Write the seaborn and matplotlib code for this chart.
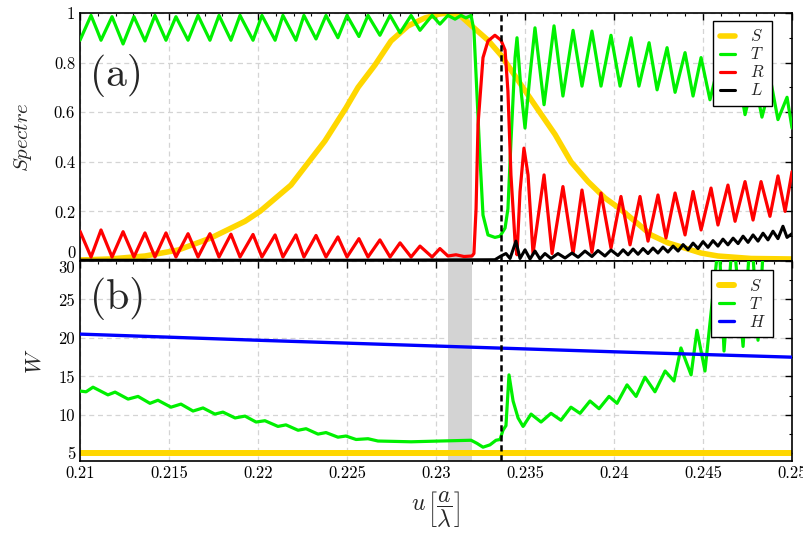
import numpy as np
import pandas as pd
import matplotlib
matplotlib.use("Agg")
import matplotlib.pyplot as plt
import seaborn as sns

# ---------------- data ----------------
x_ticks = [0.21, 0.215, 0.22, 0.225, 0.23, 0.235, 0.24, 0.245, 0.25]
x_tick_labels = ["0.21", "0.215", "0.22", "0.225", "0.23", "0.235", "0.24", "0.245", "0.25"]
top_ticks = [0, 0.2, 0.4, 0.6, 0.8, 1.0]
top_tick_labels = ["0", "0.2", "0.4", "0.6", "0.8", "1"]
bot_ticks = [5, 10, 15, 20, 25, 30]
bot_tick_labels = ["5", "10", "15", "20", "25", "30"]

span_lo, span_hi = 0.2307, 0.2320
vline_x = 0.23365

# Panel (a)
S_x = [0.21000, 0.21169, 0.21365, 0.21551, 0.21736, 0.21927, 0.22011, 0.22185, 0.22376,
       0.22494, 0.22562, 0.22657, 0.22747, 0.22843, 0.22938, 0.23022, 0.23079, 0.23135,
       0.23197, 0.23292, 0.23365, 0.23478, 0.23573, 0.23669, 0.23758, 0.23854, 0.23949,
       0.24034, 0.24118, 0.24208, 0.24303, 0.24399, 0.24489, 0.24584, 0.24770, 0.25000]
S_y = [0.004, 0.008, 0.02, 0.044, 0.093, 0.16, 0.20, 0.306, 0.484,
       0.617, 0.70, 0.79, 0.887, 0.948, 0.98, 0.996, 1.0, 0.99,
       0.95, 0.89, 0.83, 0.71, 0.61, 0.51, 0.40, 0.32, 0.254,
       0.21, 0.16, 0.105, 0.073, 0.052, 0.032, 0.02, 0.01, 0.008]

T_x = [0.21000, 0.21062, 0.21096, 0.21118, 0.21180, 0.21242, 0.21303, 0.21365, 0.21421,
       0.21483, 0.21539, 0.21607, 0.21663, 0.21730, 0.21781, 0.21848, 0.21899, 0.21972,
       0.22022, 0.22096, 0.22140, 0.22213, 0.22258, 0.22326, 0.22382, 0.22449, 0.22500,
       0.22567, 0.22618, 0.22685, 0.22742, 0.22798, 0.22860, 0.22910, 0.22978, 0.23022,
       0.23067, 0.23107, 0.23140, 0.23168, 0.23197, 0.23213, 0.23225, 0.23247, 0.23264,
       0.23292, 0.23331, 0.23360, 0.23388, 0.23404, 0.23421, 0.23444, 0.23455, 0.23478,
       0.23500, 0.23528, 0.23556, 0.23607, 0.23663, 0.23713, 0.23770, 0.23820, 0.23876,
       0.23927, 0.23983, 0.24034, 0.24096, 0.24140, 0.24197, 0.24242, 0.24298, 0.24343,
       0.24399, 0.24444, 0.24489, 0.24539, 0.24590, 0.24635, 0.24691, 0.24736, 0.24787,
       0.24831, 0.24882, 0.24921, 0.24972, 0.25000]
T_y = [0.89, 0.99, 0.93, 0.89, 0.985, 0.875, 0.985, 0.887, 0.99,
       0.89, 0.985, 0.89, 0.99, 0.89, 0.99, 0.89, 0.99, 0.89,
       0.99, 0.89, 0.99, 0.89, 0.99, 0.895, 0.99, 0.90, 0.99,
       0.905, 0.99, 0.91, 0.99, 0.92, 0.99, 0.93, 0.99, 0.955,
       0.99, 0.975, 0.99, 0.98, 0.99, 0.93, 0.75, 0.415, 0.185,
       0.105, 0.095, 0.10, 0.133, 0.21, 0.48, 0.82, 0.90, 0.685,
       0.536, 0.75, 0.94, 0.63, 0.948, 0.665, 0.93, 0.705, 0.927,
       0.705, 0.91, 0.705, 0.90, 0.705, 0.88, 0.69, 0.86, 0.68,
       0.84, 0.665, 0.82, 0.65, 0.80, 0.63, 0.78, 0.59, 0.74,
       0.58, 0.72, 0.57, 0.66, 0.536]

R_x = [0.21000, 0.21062, 0.21118, 0.21180, 0.21242, 0.21303, 0.21365, 0.21421, 0.21483,
       0.21539, 0.21607, 0.21663, 0.21730, 0.21781, 0.21848, 0.21899, 0.21972, 0.22022,
       0.22096, 0.22140, 0.22213, 0.22258, 0.22326, 0.22382, 0.22449, 0.22500, 0.22567,
       0.22618, 0.22685, 0.22742, 0.22798, 0.22860, 0.22910, 0.22978, 0.23022, 0.23067,
       0.23112, 0.23157, 0.23202, 0.23213, 0.23225, 0.23236, 0.23264, 0.23292, 0.23331,
       0.23348, 0.23365, 0.23388, 0.23404, 0.23421, 0.23444, 0.23455, 0.23472, 0.23494,
       0.23517, 0.23545, 0.23607, 0.23652, 0.23713, 0.23770, 0.23820, 0.23876, 0.23927,
       0.23983, 0.24039, 0.24090, 0.24146, 0.24191, 0.24247, 0.24292, 0.24343, 0.24399,
       0.24444, 0.24489, 0.24545, 0.24584, 0.24640, 0.24680, 0.24736, 0.24781, 0.24826,
       0.24876, 0.24921, 0.24961, 0.25000]
R_y = [0.12, 0.016, 0.125, 0.016, 0.118, 0.016, 0.113, 0.016, 0.113,
       0.016, 0.11, 0.016, 0.11, 0.016, 0.108, 0.016, 0.107, 0.016,
       0.105, 0.016, 0.105, 0.016, 0.103, 0.016, 0.097, 0.016, 0.09,
       0.016, 0.085, 0.016, 0.073, 0.016, 0.06, 0.016, 0.05, 0.02,
       0.025, 0.018, 0.02, 0.03, 0.21, 0.55, 0.82, 0.887, 0.91,
       0.90, 0.89, 0.85, 0.685, 0.347, 0.08, 0.025, 0.28, 0.455,
       0.347, 0.03, 0.347, 0.03, 0.30, 0.03, 0.286, 0.035, 0.274,
       0.052, 0.26, 0.065, 0.26, 0.08, 0.266, 0.093, 0.274, 0.105,
       0.28, 0.125, 0.294, 0.145, 0.306, 0.16, 0.32, 0.165, 0.32,
       0.18, 0.343, 0.20, 0.36]

L_x = [0.21000, 0.21500, 0.22000, 0.22500, 0.23000, 0.23331, 0.23365, 0.23393, 0.23416,
       0.23449, 0.23472, 0.23500, 0.23528, 0.23556, 0.23584, 0.23612, 0.23646, 0.23685,
       0.23725, 0.23764, 0.23798, 0.23837, 0.23876, 0.23910, 0.23949, 0.23983, 0.24022,
       0.24051, 0.24079, 0.24107, 0.24135, 0.24163, 0.24191, 0.24219, 0.24247, 0.24275,
       0.24303, 0.24332, 0.24360, 0.24388, 0.24416, 0.24444, 0.24472, 0.24500, 0.24528,
       0.24556, 0.24584, 0.24612, 0.24640, 0.24669, 0.24697, 0.24725, 0.24753, 0.24781,
       0.24809, 0.24837, 0.24865, 0.24893, 0.24921, 0.24949, 0.24972, 0.25000]
L_y = [0.003, 0.003, 0.003, 0.003, 0.004, 0.005, 0.02, 0.03, 0.01,
       0.08, 0.01, 0.045, 0.008, 0.04, 0.008, 0.03, 0.01, 0.03,
       0.012, 0.032, 0.015, 0.04, 0.018, 0.042, 0.02, 0.044, 0.022,
       0.045, 0.025, 0.048, 0.027, 0.05, 0.03, 0.052, 0.032, 0.056,
       0.036, 0.06, 0.04, 0.066, 0.045, 0.072, 0.05, 0.078, 0.055,
       0.082, 0.06, 0.088, 0.065, 0.092, 0.07, 0.10, 0.075, 0.105,
       0.08, 0.112, 0.085, 0.12, 0.09, 0.14, 0.095, 0.11]

# Panel (b)
Sb_x = [0.21, 0.25]
Sb_y = [5.0, 5.0]
H_x = [0.21, 0.22, 0.23, 0.24, 0.25]
H_y = [20.5, 19.7, 18.95, 18.2, 17.5]
Tb_x = [0.21000, 0.21034, 0.21073, 0.21157, 0.21197, 0.21270, 0.21326, 0.21393, 0.21438,
        0.21511, 0.21567, 0.21635, 0.21691, 0.21758, 0.21803, 0.21871, 0.21927, 0.21989,
        0.22039, 0.22112, 0.22157, 0.22225, 0.22270, 0.22337, 0.22382, 0.22449, 0.22494,
        0.22551, 0.22618, 0.22674, 0.22770, 0.22860, 0.23022, 0.23197, 0.23230, 0.23264,
        0.23303, 0.23337, 0.23360, 0.23376, 0.23393, 0.23410, 0.23433, 0.23461, 0.23489,
        0.23534, 0.23590, 0.23646, 0.23702, 0.23758, 0.23809, 0.23865, 0.23916, 0.23972,
        0.24017, 0.24073, 0.24124, 0.24174, 0.24230, 0.24287, 0.24337, 0.24376, 0.24433,
        0.24466, 0.24511, 0.24562, 0.24590, 0.24618, 0.24669, 0.24725, 0.24770, 0.24809,
        0.24854]
Tb_y = [13.1, 13.0, 13.6, 12.6, 12.96, 12.05, 12.4, 11.5, 11.9,
        11.0, 11.4, 10.5, 10.9, 10.1, 10.36, 9.6, 9.84, 9.07,
        9.24, 8.5, 8.7, 8.0, 8.2, 7.5, 7.7, 7.1, 7.25,
        6.8, 6.9, 6.6, 6.55, 6.5, 6.6, 6.7, 6.3, 5.8,
        6.1, 6.7, 6.8, 8.0, 8.6, 15.2, 11.8, 9.6, 8.5,
        10.1, 9.07, 10.2, 9.3, 11.0, 10.2, 11.8, 10.8, 12.4,
        11.5, 13.9, 12.4, 14.9, 13.0, 15.7, 14.4, 18.7, 15.2,
        21.0, 15.7, 27.0, 33.0, 18.3, 34.0, 18.9, 35.0, 19.7,
        38.0]

# ---------------- style ----------------
sns.set_theme(style="white")
plt.rcParams.update({
    "font.family": "cmr10",
    "mathtext.fontset": "cm",
    "axes.unicode_minus": False,
    "axes.formatter.use_mathtext": True,
    "axes.edgecolor": "black",
    "axes.linewidth": 1.2,
    "xtick.direction": "in",
    "ytick.direction": "in",
    "xtick.top": True,
    "ytick.right": True,
    "xtick.major.size": 5,
    "ytick.major.size": 5,
    "xtick.minor.size": 2.5,
    "ytick.minor.size": 2.5,
    "xtick.major.width": 1.0,
    "ytick.major.width": 1.0,
    "xtick.minor.width": 0.8,
    "ytick.minor.width": 0.8,
    "xtick.color": "black",
    "ytick.color": "black",
    "xtick.labelsize": 12,
    "ytick.labelsize": 12,
    "lines.solid_joinstyle": "round",
    "lines.solid_capstyle": "round",
})

C_S = "#FFD700"
C_T = "#00F000"
C_R = "#FF0000"
C_L = "#000000"
C_H = "#0000FF"

fig = plt.figure(figsize=(8.04, 5.42), dpi=100)
ax1 = fig.add_axes([0.0995, 0.5185, 0.8856, 0.4576])
ax2 = fig.add_axes([0.0995, 0.1494, 0.8856, 0.3690])

grid_kw = dict(color="#d4d4d4", lw=0.9, ls=(0, (4, 3)))

for ax in (ax1, ax2):
    ax.set_axisbelow(True)
    ax.grid(True, which="major", **grid_kw)
    ax.axvspan(span_lo, span_hi, color="#d3d3d3", lw=0, zorder=1)
    ax.set_xlim(0.21, 0.25)
    ax.set_xticks(x_ticks)
    ax.set_xticks(np.arange(0.21, 0.2501, 0.001), minor=True)
    for sp in ax.spines.values():
        sp.set_color("black")
        sp.set_linewidth(1.2)

# Panel (a)
sns.lineplot(x=S_x, y=S_y, ax=ax1, color=C_S, lw=4.0, label=r"$S\;\;$", estimator=None, zorder=2)
sns.lineplot(x=T_x, y=T_y, ax=ax1, color=C_T, lw=2.3, label=r"$T\;\;$", estimator=None, zorder=3)
sns.lineplot(x=R_x, y=R_y, ax=ax1, color=C_R, lw=2.3, label=r"$R\;\;$", estimator=None, zorder=4)
sns.lineplot(x=L_x, y=L_y, ax=ax1, color=C_L, lw=2.2, label=r"$L\;\;$", estimator=None, zorder=5)
ax1.axvline(vline_x, color="black", lw=1.8, ls=(0, (2.5, 1.5)), zorder=6)
ax1.set_ylim(0, 1)
ax1.set_yticks(top_ticks)
ax1.set_yticklabels(top_tick_labels)
ax1.set_yticks(np.arange(0, 1.001, 0.1), minor=True)
ax1.tick_params(axis="x", which="both", labelbottom=False)
ax1.set_xlabel("")
ax1.set_ylabel(r"$Spectre$", fontsize=15, labelpad=14)
ax1.text(0.014, 0.746, "(a)", transform=ax1.transAxes, fontsize=30, ha="left", va="center")
leg1 = ax1.legend(loc="upper right", bbox_to_anchor=(0.972, 0.968), borderaxespad=0,
                  fontsize=12, frameon=True, fancybox=False, framealpha=1, edgecolor="black",
                  handlelength=0.9, handletextpad=0.9, labelspacing=0.12, borderpad=0.45)
leg1.get_frame().set_linewidth(1.0)
leg1.set_zorder(10)

# Panel (b)
sns.lineplot(x=Sb_x, y=Sb_y, ax=ax2, color=C_S, lw=4.3, label=r"$S\;\;$", estimator=None, zorder=2)
sns.lineplot(x=Tb_x, y=Tb_y, ax=ax2, color=C_T, lw=2.3, label=r"$T\;\;$", estimator=None, zorder=3)
sns.lineplot(x=H_x, y=H_y, ax=ax2, color=C_H, lw=2.4, label=r"$H\;\;$", estimator=None, zorder=4)
ax2.axvline(vline_x, color="black", lw=1.8, ls=(0, (2.5, 1.5)), zorder=6)
ax2.set_ylim(4, 30)
ax2.set_yticks(bot_ticks)
ax2.set_yticklabels(bot_tick_labels)
ax2.set_yticks(np.arange(5, 30.01, 2.5), minor=True)
ax2.set_xticklabels(x_tick_labels)
ax2.set_ylabel(r"$W$", fontsize=16, labelpad=10)
ax2.set_xlabel(r"$u\,\left[\dfrac{a}{\lambda}\right]$", fontsize=17, labelpad=6)
ax2.text(0.014, 0.815, "(b)", transform=ax2.transAxes, fontsize=30, ha="left", va="center")
leg2 = ax2.legend(loc="upper right", bbox_to_anchor=(0.973, 0.955), borderaxespad=0,
                  fontsize=12, frameon=True, fancybox=False, framealpha=1, edgecolor="black",
                  handlelength=0.9, handletextpad=0.9, labelspacing=0.12, borderpad=0.45)
leg2.get_frame().set_linewidth(1.0)
leg2.set_zorder(10)

# align the touching tick labels at the panel junction
ax1.yaxis.get_major_ticks()[0].label1.set_verticalalignment("bottom")
ax2.yaxis.get_major_ticks()[-1].label1.set_verticalalignment("top")

fig.savefig("out.png", dpi=100)
